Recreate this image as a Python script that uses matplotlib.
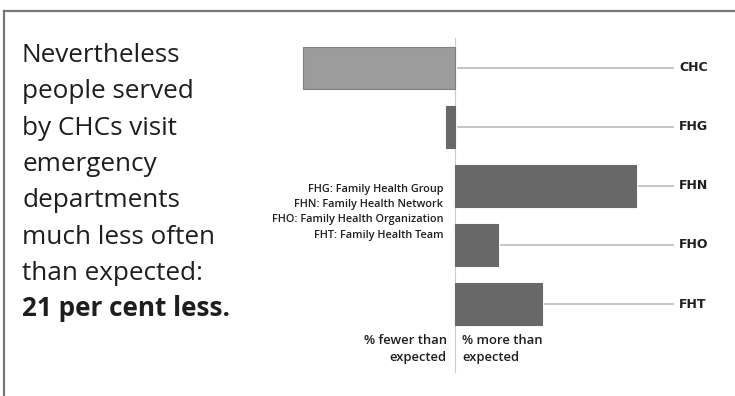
import matplotlib
matplotlib.use("Agg")
import matplotlib.pyplot as plt
from matplotlib.lines import Line2D

plt.rcParams["font.family"] = ["Open Sans", "DejaVu Sans"]

# Emergency department visits relative to expected, by model of primary care
categories = ["CHC", "FHG", "FHN", "FHO", "FHT"]
pct_vs_expected = [-21, -1.3, 25, 6, 12]

headline = ["Nevertheless", "people served", "by CHCs visit", "emergency",
            "departments", "much less often", "than expected:"]
headline_bold = "21 per cent less."

legend_lines = ["FHG: Family Health Group", "FHN: Family Health Network",
                "FHO: Family Health Organization", "FHT: Family Health Team"]
left_caption = ["% fewer than", "expected"]
right_caption = ["% more than", "expected"]

W, H = 735, 396
fig = plt.figure(figsize=(W / 100, H / 100), dpi=100)
fig.patch.set_facecolor("white")

# frame: top rule and left rule
fig.add_artist(Line2D([4 / W, 1.0], [1 - 11 / H, 1 - 11 / H], color="#777777", lw=1.6))
fig.add_artist(Line2D([4 / W, 4 / W], [0, 1 - 11 / H], color="#777777", lw=1.6))

# headline text
x0 = 22 / W
for i, line in enumerate(headline + [headline_bold]):
    yb = 62 + 36.3 * i
    fig.text(x0, 1 - yb / H, line, fontsize=18.8, color="#1e1e1e", va="baseline",
             ha="left", fontweight="bold" if line == headline_bold else "medium")

# bar chart axes: zero at x=455px, 7.24 px per percent
px_per = 7.24
zero_px = 455
ax_left_px = 280
ax = fig.add_axes([ax_left_px / W, 0, 1 - ax_left_px / W, 1])
ax.set_xlim((ax_left_px - zero_px) / px_per, (W - zero_px) / px_per)
y0_px, step_px = 68, 59
ax.set_ylim((H - y0_px) / step_px, -y0_px / step_px)
ax.axis("off")

def dx(px):
    return px / px_per

def y_of(px):
    return (px - y0_px) / step_px

# zero reference line
ax.plot([0, 0], [y_of(38), y_of(372)], color="#cccccc", lw=0.8, zorder=1)

colors = ["#9c9c9c" if i == 0 else "#686868" for i in range(len(categories))]
edges = ["#808080" if i == 0 else "#686868" for i in range(len(categories))]
ax.barh(range(len(categories)), pct_vs_expected, height=42 / step_px,
        color=colors, edgecolor=edges, linewidth=0.8, zorder=2)

line_end = dx(673 - zero_px)
for i, (cat, v) in enumerate(zip(categories, pct_vs_expected)):
    start = max(v, 0) + dx(3)
    ax.plot([start, line_end], [i, i], color="#bbbbbb", lw=1.2, zorder=1)
    ax.text(dx(679 - zero_px), i, cat, fontsize=9, fontweight="bold",
            color="#1e1e1e", va="center", ha="left", family=["DejaVu Sans"])

# abbreviation key
for j, (line, ypx) in enumerate(zip(legend_lines, [190, 205, 220, 236])):
    ax.text(dx(443 - zero_px), y_of(ypx), line, fontsize=7.8, fontweight="semibold",
            color="#1e1e1e", va="center", ha="right")

# direction captions under the bars
for line, ypx in zip(left_caption, [340, 357]):
    ax.text(dx(447 - zero_px), y_of(ypx), line, fontsize=9.4, fontweight="semibold",
            color="#1e1e1e", va="center", ha="right")
for line, ypx in zip(right_caption, [340, 357]):
    ax.text(dx(462 - zero_px), y_of(ypx), line, fontsize=9.4, fontweight="semibold",
            color="#1e1e1e", va="center", ha="left")

fig.savefig("out.png", dpi=100, facecolor="white")
